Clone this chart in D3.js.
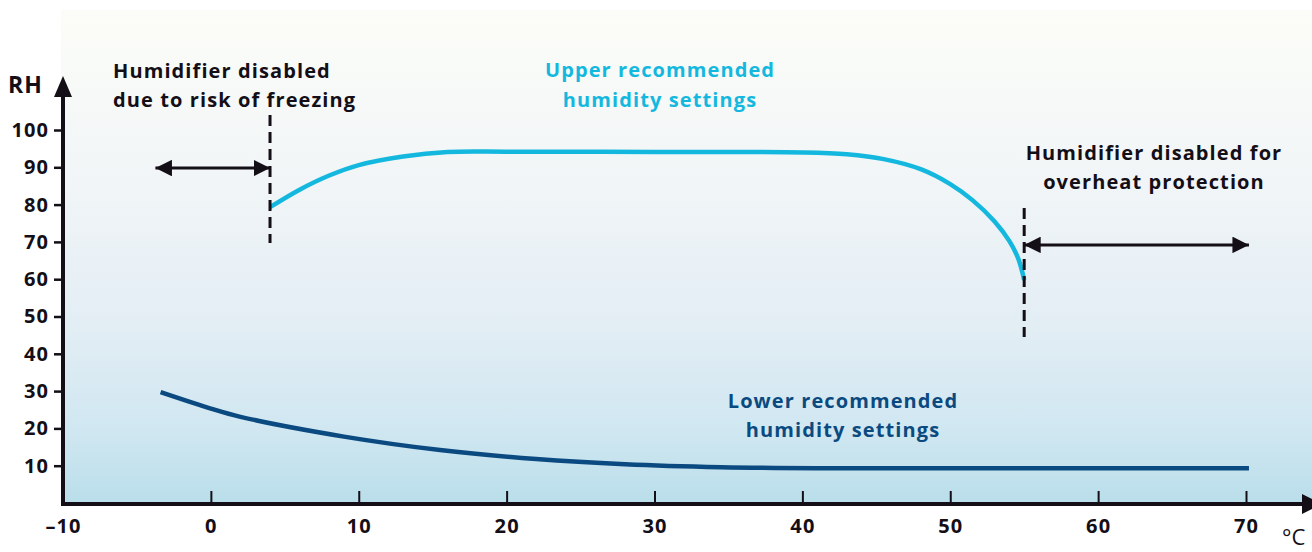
<!DOCTYPE html>
<html>
<head>
<meta charset="utf-8">
<script src="https://cdn.jsdelivr.net/npm/d3@7"></script>
<style>
  html, body { margin: 0; padding: 0; background: #ffffff; }
  svg { display: block; }
  text { font-family: "Open Sans", Roboto, sans-serif; font-weight: 700; letter-spacing: 1.1px; }
</style>
</head>
<body>
<div id="chart"></div>
<script>
// chart values
const xTicks = [-10, 0, 10, 20, 30, 40, 50, 60, 70];
const yTicks = [10, 20, 30, 40, 50, 60, 70, 80, 90, 100];

const upperTemp = [4, 6, 8, 10, 13, 16, 20, 30, 40, 43, 45.5, 48, 50, 51.5, 53, 54, 54.6, 55];
const upperRH = [79.3, 84, 87.8, 90.6, 92.9, 94.1, 94.2, 94.1, 94, 93.5, 92.2, 89.5, 85.5, 81.2, 75.5, 70.2, 65.5, 59.8];

const lowerTemp = [-3.4, 0, 2, 9, 15.5, 22, 28, 34.5, 41, 50, 60, 70.2];
const lowerRH = [29.7, 25.3, 23.1, 17.8, 14.2, 11.8, 10.4, 9.6, 9.3, 9.3, 9.3, 9.3];

// disabled zones: dashed limit lines and range arrows
const freezeLimit = { temp: 4, rhFrom: 104, rhTo: 69.7 };
const heatLimit = { temp: 55, rhFrom: 79.1, rhTo: 44.5 };
const freezeArrow = { from: -3.75, to: 4, rh: 89.8 };
const heatArrow = { from: 55, to: 70.2, rh: 69.2 };

const width = 1312, height = 552;
const ink = "#140e16";
const cyan = "#14b8de";
const navy = "#0b4a80";

const svg = d3.select("#chart")
  .append("svg")
  .attr("width", width)
  .attr("height", height);

// scales
const x = d3.scaleLinear().domain([-10, 70]).range([63, 1246]);
const y = d3.scaleLinear().domain([0, 100]).range([503, 130]);

// background gradient
const defs = svg.append("defs");
const grad = defs.append("linearGradient")
  .attr("id", "bg")
  .attr("x1", 0).attr("y1", 0).attr("x2", 0).attr("y2", 1);
grad.append("stop").attr("offset", "0%").attr("stop-color", "#fcfdf8");
grad.append("stop").attr("offset", "35%").attr("stop-color", "#f1f5f7");
grad.append("stop").attr("offset", "65%").attr("stop-color", "#e2edf4");
grad.append("stop").attr("offset", "85%").attr("stop-color", "#d0e7f1");
grad.append("stop").attr("offset", "100%").attr("stop-color", "#b9deea");

svg.append("rect")
  .attr("x", 61).attr("y", 10)
  .attr("width", width - 61).attr("height", 504 - 10)
  .attr("fill", "url(#bg)");

// arrow markers
defs.append("marker")
  .attr("id", "head")
  .attr("viewBox", "0 0 10 10")
  .attr("refX", 10).attr("refY", 5)
  .attr("markerWidth", 5.5).attr("markerHeight", 5.5)
  .attr("markerUnits", "strokeWidth")
  .attr("orient", "auto-start-reverse")
  .append("path")
  .attr("d", "M0,0 L10,5 L0,10 Z")
  .attr("fill", ink);

// curves
const line = d3.line()
  .x(d => x(d[0]))
  .y(d => y(d[1]))
  .curve(d3.curveCatmullRom.alpha(0.5));

svg.append("path")
  .datum(d3.zip(upperTemp, upperRH))
  .attr("d", line)
  .attr("fill", "none")
  .attr("stroke", cyan)
  .attr("stroke-width", 4.5);

svg.append("path")
  .datum(d3.zip(lowerTemp, lowerRH))
  .attr("d", line)
  .attr("fill", "none")
  .attr("stroke", navy)
  .attr("stroke-width", 4.5);

// dashed limits
[freezeLimit, heatLimit].forEach(function(l) {
  svg.append("line")
    .attr("x1", x(l.temp)).attr("x2", x(l.temp))
    .attr("y1", y(l.rhFrom)).attr("y2", y(l.rhTo))
    .attr("stroke", ink)
    .attr("stroke-width", 3)
    .attr("stroke-dasharray", "11,6");
});

// range arrows
[freezeArrow, heatArrow].forEach(function(a) {
  svg.append("line")
    .attr("x1", x(a.from)).attr("x2", x(a.to))
    .attr("y1", y(a.rh)).attr("y2", y(a.rh))
    .attr("stroke", ink)
    .attr("stroke-width", 3)
    .attr("marker-start", "url(#head)")
    .attr("marker-end", "url(#head)");
});

// x axis
const xAxis = svg.append("g")
  .attr("transform", "translate(0," + 504 + ")")
  .call(d3.axisBottom(x)
    .tickValues(xTicks)
    .tickSizeInner(-13)
    .tickSizeOuter(0)
    .tickPadding(15)
    .tickFormat(d => d < 0 ? "\u2013" + Math.abs(d) : d));
xAxis.select(".domain").remove();
xAxis.selectAll(".tick line").attr("stroke", ink).attr("stroke-width", 2)
  .filter(d => d === -10).remove();
xAxis.selectAll(".tick text").attr("fill", ink).style("font-size", "20px");

// y axis
const yAxis = svg.append("g")
  .attr("transform", "translate(" + 63 + ",0)")
  .call(d3.axisLeft(y)
    .tickValues(yTicks)
    .tickSizeInner(9)
    .tickSizeOuter(0)
    .tickPadding(5));
yAxis.select(".domain").remove();
yAxis.selectAll(".tick line").attr("stroke", ink).attr("stroke-width", 2.5);
yAxis.selectAll(".tick text").attr("fill", ink).style("font-size", "20px");

// axis lines with arrowheads
svg.append("line")
  .attr("x1", 63).attr("x2", 63)
  .attr("y1", 505.5).attr("y2", 92)
  .attr("stroke", ink).attr("stroke-width", 4);
svg.append("path")
  .attr("d", "M54,97 L63,76 L72,97 Z")
  .attr("fill", ink);

svg.append("line")
  .attr("x1", 61).attr("x2", 1306)
  .attr("y1", 504).attr("y2", 504)
  .attr("stroke", ink).attr("stroke-width", 4);
svg.append("path")
  .attr("d", "M1302,494 L1322,504 L1302,514 Z")
  .attr("fill", ink);

svg.append("text")
  .attr("x", 8).attr("y", 93)
  .attr("fill", ink)
  .style("font-size", "23px")
  .text("RH");

svg.append("text")
  .attr("x", 1282).attr("y", 545)
  .attr("fill", ink)
  .style("font-size", "22px")
  .style("font-weight", 400)
  .style("letter-spacing", "0px")
  .text("\u00b0C");

// annotations
function label(lines, xPos, baselines, anchor, color) {
  const t = svg.append("text")
    .attr("text-anchor", anchor)
    .attr("fill", color)
    .style("font-size", "20px");
  lines.forEach(function(s, i) {
    t.append("tspan").attr("x", xPos).attr("y", baselines[i]).text(s);
  });
}

label(["Humidifier disabled", "due to risk of freezing"], 113, [78, 107], "start", ink);
label(["Upper recommended", "humidity settings"], 660, [77, 107], "middle", cyan);
label(["Lower recommended", "humidity settings"], 843, [408, 437], "middle", navy);
label(["Humidifier disabled for", "overheat protection"], 1154, [160, 189], "middle", ink);
</script>
</body>
</html>
